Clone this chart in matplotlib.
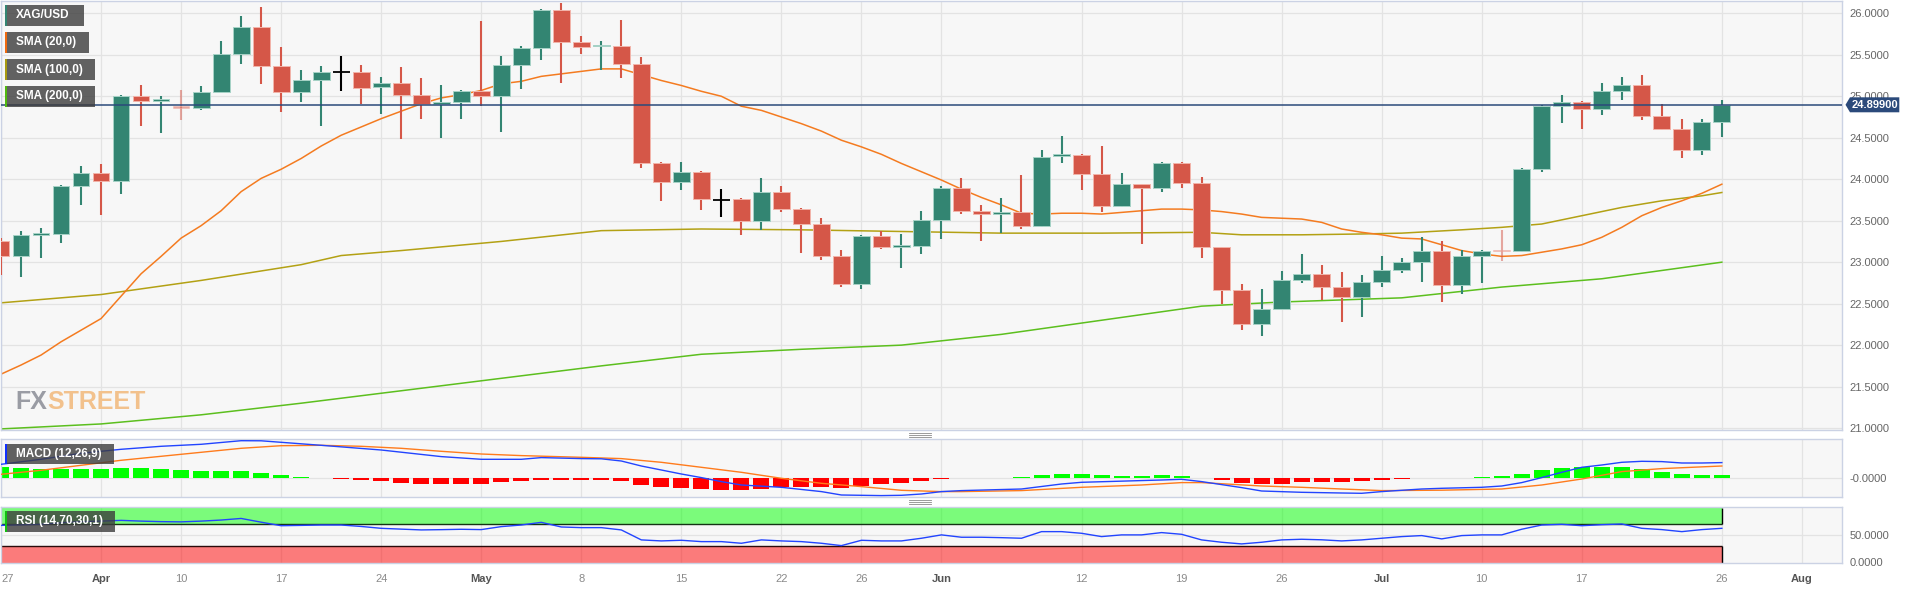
import matplotlib
matplotlib.use("Agg")
import matplotlib.pyplot as plt
from matplotlib.patches import Rectangle, Polygon
from matplotlib.lines import Line2D

plt.rcParams['font.family'] = ['Liberation Sans', 'DejaVu Sans']

# one candle per trading day: index 0 = Mar 27, index 86 = Jul 26
opens = [23.25, 23.08, 23.33, 23.34, 23.92, 24.08, 23.98, 25.00, 24.94, 24.87,
         24.86, 25.05, 25.51, 25.83, 25.37, 25.05, 25.20, 25.29, 25.29, 25.11,
         25.16, 25.02, 24.91, 24.93, 25.06, 25.00, 25.38, 25.58, 26.04, 25.66,
         25.60, 25.61, 25.39, 24.19, 23.97, 24.09, 23.75, 23.76, 23.50, 23.85,
         23.64, 23.46, 23.07, 22.74, 23.31, 23.18, 23.20, 23.51, 23.89, 23.62,
         23.58, 23.60, 23.44, 24.28, 24.29, 24.06, 23.68, 23.94, 23.90, 24.20,
         23.95, 23.18, 22.66, 22.26, 22.44, 22.79, 22.86, 22.70, 22.58, 22.76,
         22.90, 23.00, 23.13, 22.72, 23.08, 23.14, 23.14, 24.12, 24.88, 24.93,
         24.85, 25.06, 25.14, 24.76, 24.61, 24.35, 24.69]
highs = [23.29, 23.37, 23.41, 23.93, 24.16, 24.18, 25.02, 25.14, 25.00, 25.08,
         25.12, 25.67, 25.97, 26.08, 25.59, 25.32, 25.37, 25.49, 25.38, 25.23,
         25.35, 25.22, 25.14, 25.08, 25.91, 25.49, 25.61, 26.05, 26.12, 25.73,
         25.67, 25.92, 25.47, 24.21, 24.21, 24.10, 23.88, 23.77, 24.01, 23.92,
         23.65, 23.53, 23.15, 23.33, 23.37, 23.34, 23.62, 23.92, 24.01, 23.69,
         23.77, 24.05, 24.35, 24.52, 24.30, 24.40, 24.07, 23.94, 24.21, 24.21,
         24.03, 23.18, 22.74, 22.68, 22.89, 23.10, 22.96, 22.88, 22.84, 23.07,
         23.05, 23.30, 23.25, 23.15, 23.15, 23.39, 24.14, 24.89, 25.02, 24.94,
         25.16, 25.23, 25.26, 24.91, 24.73, 24.73, 24.95]
lows = [22.84, 22.82, 23.05, 23.23, 23.69, 23.57, 23.82, 24.64, 24.56, 24.71,
        24.84, 25.05, 25.39, 25.15, 24.81, 24.93, 24.64, 25.06, 24.91, 24.79,
        24.49, 24.73, 24.50, 24.73, 24.88, 24.57, 25.09, 25.44, 25.16, 25.51,
        25.32, 25.22, 24.14, 23.74, 23.87, 23.63, 23.55, 23.33, 23.39, 23.60,
        23.11, 23.03, 22.70, 22.68, 23.16, 22.93, 23.10, 23.28, 23.58, 23.25,
        23.35, 23.40, 23.43, 24.20, 23.87, 23.60, 23.66, 23.22, 23.84, 23.89,
        23.05, 22.49, 22.18, 22.11, 22.43, 22.75, 22.55, 22.28, 22.34, 22.70,
        22.87, 22.76, 22.52, 22.62, 22.75, 23.02, 23.12, 24.09, 24.68, 24.60,
        24.77, 24.95, 24.71, 24.59, 24.26, 24.29, 24.51]
closes = [23.08, 23.33, 23.34, 23.92, 24.08, 23.98, 25.00, 24.94, 24.97, 24.86,
          25.05, 25.51, 25.83, 25.37, 25.05, 25.20, 25.29, 25.29, 25.10, 25.16,
          25.02, 24.91, 24.93, 25.06, 25.00, 25.38, 25.58, 26.04, 25.66, 25.59,
          25.61, 25.39, 24.19, 23.97, 24.09, 23.76, 23.75, 23.50, 23.85, 23.64,
          23.46, 23.07, 22.74, 23.32, 23.18, 23.19, 23.51, 23.89, 23.62, 23.58,
          23.60, 23.44, 24.27, 24.29, 24.06, 23.68, 23.94, 23.90, 24.20, 23.95,
          23.18, 22.67, 22.26, 22.44, 22.79, 22.86, 22.70, 22.58, 22.76, 22.90,
          23.00, 23.13, 22.72, 23.08, 23.14, 23.13, 24.12, 24.88, 24.93, 24.85,
          25.06, 25.14, 24.76, 24.61, 24.35, 24.69, 24.899]
last_price = 24.899

sma20_idx = list(range(0, 87))
sma20 = [21.65, 21.76, 21.88, 22.04, 22.18, 22.32, 22.59, 22.86, 23.07, 23.29,
         23.44, 23.62, 23.85, 24.01, 24.12, 24.25, 24.40, 24.53, 24.63, 24.73,
         24.82, 24.91, 24.98, 25.02, 25.07, 25.15, 25.18, 25.24, 25.27, 25.30,
         25.33, 25.33, 25.26, 25.19, 25.13, 25.06, 25.00, 24.88, 24.83, 24.75,
         24.67, 24.58, 24.47, 24.39, 24.30, 24.19, 24.09, 23.99, 23.88, 23.78,
         23.69, 23.59, 23.58, 23.59, 23.59, 23.58, 23.60, 23.62, 23.64, 23.64,
         23.63, 23.61, 23.58, 23.54, 23.53, 23.52, 23.48, 23.40, 23.36, 23.33,
         23.29, 23.28, 23.21, 23.14, 23.10, 23.07, 23.08, 23.12, 23.16, 23.21,
         23.30, 23.42, 23.56, 23.66, 23.74, 23.83, 23.94]
sma100_idx = [0, 5, 10, 15, 17, 20, 25, 30, 35, 40, 45, 50, 55, 60, 62, 64,
              65, 68, 70, 73, 75, 77, 79, 81, 83, 85, 86]
sma100 = [22.51, 22.61, 22.78, 22.97, 23.08, 23.14, 23.25, 23.38, 23.40, 23.39,
          23.37, 23.35, 23.35, 23.36, 23.33, 23.33, 23.33, 23.34, 23.35, 23.39,
          23.42, 23.46, 23.56, 23.66, 23.74, 23.80, 23.84]
sma200_idx = [0, 5, 10, 15, 20, 25, 30, 35, 40, 45, 50, 55, 60, 64, 70, 75, 80, 86]
sma200 = [20.99, 21.05, 21.16, 21.30, 21.45, 21.60, 21.75, 21.89, 21.95, 22.00,
          22.13, 22.30, 22.47, 22.52, 22.57, 22.70, 22.80, 23.00]

macd_idx = [0, 2, 4, 6, 8, 10, 12, 13, 14, 16, 19, 22, 24, 26, 27, 29, 30, 31,
            32, 34, 35, 36, 37, 39, 41, 42, 43, 44, 45, 46, 47, 48, 51, 53, 54,
            58, 59, 60, 62, 63, 65, 67, 68, 69, 71, 72, 74, 75, 76, 77, 78, 79,
            80, 81, 82, 83, 84, 85, 86]
macd_line = [0.140, 0.190, 0.250, 0.290, 0.320, 0.340, 0.376, 0.375, 0.360,
             0.330, 0.283, 0.217, 0.190, 0.190, 0.207, 0.197, 0.195, 0.173,
             0.123, 0.043, 0.007, -0.033, -0.067, -0.090, -0.133, -0.167,
             -0.170, -0.173, -0.170, -0.157, -0.133, -0.123, -0.107, -0.057,
             -0.040, -0.017, -0.010, -0.033, -0.093, -0.127, -0.140, -0.147,
             -0.150, -0.133, -0.107, -0.100, -0.090, -0.077, -0.043, 0.007,
             0.060, 0.110, 0.133, 0.160, 0.170, 0.167, 0.153, 0.153, 0.157]
signal_idx = [0, 2, 4, 6, 8, 10, 12, 14, 16, 18, 20, 22, 24, 26, 29, 31, 33,
              35, 37, 39, 41, 43, 45, 47, 48, 51, 54, 57, 59, 60, 63, 65, 67,
              69, 72, 75, 77, 79, 81, 83, 86]
signal_line = [0.040, 0.080, 0.130, 0.180, 0.220, 0.260, 0.300, 0.326, 0.330,
               0.320, 0.300, 0.270, 0.243, 0.227, 0.210, 0.197, 0.160, 0.110,
               0.060, 0.000, -0.050, -0.083, -0.120, -0.133, -0.133, -0.123,
               -0.090, -0.067, -0.043, -0.043, -0.077, -0.090, -0.107, -0.123,
               -0.119, -0.107, -0.067, -0.007, 0.067, 0.097, 0.123]
macd_hist = [0.110, 0.100, 0.097, 0.097, 0.097, 0.093, 0.103, 0.103, 0.093, 0.083,
             0.073, 0.073, 0.073, 0.053, 0.030, 0.013, 0.003, -0.003, -0.020, -0.030,
             -0.043, -0.053, -0.057, -0.057, -0.057, -0.037, -0.023, -0.013, -0.013, -0.013,
             -0.013, -0.027, -0.067, -0.090, -0.100, -0.110, -0.117, -0.117, -0.107, -0.090,
             -0.090, -0.090, -0.097, -0.080, -0.053, -0.047, -0.030, -0.010, 0.003, 0.007,
             0.007, 0.010, 0.030, 0.040, 0.040, 0.030, 0.027, 0.027, 0.030, 0.023,
             0.003, -0.020, -0.050, -0.057, -0.053, -0.037, -0.037, -0.033, -0.027, -0.013,
             -0.002, 0.007, 0.005, 0.007, 0.017, 0.020, 0.047, 0.083, 0.103, 0.110,
             0.113, 0.110, 0.090, 0.067, 0.043, 0.033, 0.030]

rsi = [68.0, 69.0, 70.0, 73.0, 75.0, 76.0, 77.4, 76.0, 75.0, 74.6,
       76.0, 78.0, 81.0, 74.0, 67.4, 68.0, 68.7, 68.7, 66.0, 62.5,
       61.0, 59.5, 60.0, 60.7, 60.1, 65.7, 68.7, 73.7, 65.0, 63.8,
       63.8, 59.5, 40.8, 38.9, 40.1, 37.6, 37.6, 34.5, 40.8, 38.9,
       37.6, 34.5, 30.1, 40.1, 38.9, 38.9, 43.9, 50.2, 45.8, 45.8,
       45.0, 43.9, 56.3, 56.3, 53.2, 47.0, 50.2, 50.2, 54.5, 51.3,
       40.8, 36.4, 33.3, 36.4, 40.8, 42.0, 41.0, 38.9, 40.8, 43.9,
       47.0, 48.9, 42.7, 48.9, 50.2, 50.2, 60.8, 68.7, 70.0, 67.4,
       69.3, 70.6, 62.5, 60.1, 56.3, 60.1, 62.5]

date_ticks = [0, 5, 9, 14, 19, 24, 29, 34, 39, 43, 47, 54, 59, 64, 69, 74, 79, 86, 90]
date_labels = ['27', 'Apr', '10', '17', '24', 'May', '8', '15', '22', '26',
               'Jun', '12', '19', '26', 'Jul', '10', '17', '26', 'Aug']
months = ['Apr', 'May', 'Jun', 'Jul', 'Aug']
price_ticks = [21.0, 21.5, 22.0, 22.5, 23.0, 23.5, 24.0, 24.5, 25.0, 25.5, 26.0]

GREEN = '#338572'
RED = '#d55748'
BG = '#f7f7f7'
GRID = '#e3e3e3'
BORDER = '#cbd2e4'
TICK = '#666666'

W, H = 1918, 589
fig = plt.figure(figsize=(W / 100, H / 100), dpi=100)


def fx(x):
    return x / W


def fy(y):
    return 1 - y / H


def add_panel(top, bottom):
    a = fig.add_axes([fx(1), fy(bottom), fx(1841.7 - 1), (bottom - top) / H])
    a.set_facecolor(BG)
    a.set_xlim(0.045, 91.99)
    for s in a.spines.values():
        s.set_color(BORDER)
        s.set_linewidth(1)
    a.yaxis.tick_right()
    a.tick_params(axis='both', length=0, labelsize=8, labelcolor=TICK, pad=5.5)
    a.set_xticks(date_ticks)
    a.grid(True, color=GRID, lw=0.9)
    a.set_axisbelow(True)
    return a


ax = add_panel(0.7, 430)
ax_macd = add_panel(439.3, 497.3)
ax_rsi = add_panel(506.7, 562.7)

# --- price panel ---
ax.set_ylim(20.977, 26.152)
ax.set_yticks(price_ticks)
ax.set_yticklabels(['%.4f' % v for v in price_ticks])
ax.set_xticklabels([])

ax.plot(sma200_idx, sma200, color='#5cbf1e', lw=1.1, zorder=2)
ax.plot(sma100_idx, sma100, color='#b3a114', lw=1.1, zorder=2)
ax.plot(sma20_idx, sma20, color='#f47b20', lw=1.1, zorder=2)

for i in range(len(opens)):
    o, h, l, c = opens[i], highs[i], lows[i], closes[i]
    alpha = 1.0
    if c > o:
        col, edge = GREEN, '#a6d2c6'
    elif c < o:
        col, edge = RED, '#f2b4aa'
        if o - c < 0.015:
            alpha = 0.5
    else:
        col, edge = 'black', 'black'
    ax.vlines(i, l, h, color=col, lw=1.5, alpha=alpha, zorder=3)
    if c == o:
        ax.hlines(o, i - 0.42, i + 0.42, color='black', lw=1.3, zorder=4)
    else:
        hb = max(abs(c - o), 0.022)
        ax.add_patch(Rectangle((i - 0.42, min(o, c)), 0.84, hb, facecolor=col,
                               edgecolor=edge, lw=0.7, alpha=alpha, zorder=4))

ax.axhline(last_price, color='#2b4a7b', lw=1.1, zorder=5)

# --- MACD panel ---
ax_macd.set_ylim(-0.19, 0.39)
ax_macd.set_yticks([0])
ax_macd.set_yticklabels(['-0.0000'])
ax_macd.set_xticklabels([])
bar_cols = ['#00ff00' if v >= 0 else '#ff0000' for v in macd_hist]
ax_macd.bar(range(len(macd_hist)), macd_hist, width=0.8, color=bar_cols, zorder=2)
ax_macd.plot(signal_idx, signal_line, color='#ff7b1c', lw=1.0, zorder=3)
ax_macd.plot(macd_idx, macd_line, color='#2244ff', lw=1.0, zorder=3)

# --- RSI panel ---
ax_rsi.set_ylim(-1.9, 103)
ax_rsi.set_yticks([0, 50])
ax_rsi.set_yticklabels(['0.0000', '50.0000'])
ax_rsi.set_xticks(date_ticks)
ax_rsi.set_xticklabels(date_labels)
ax_rsi.tick_params(axis='x', pad=8)
for t in ax_rsi.get_xticklabels():
    if t.get_text() in months:
        t.set_fontweight('bold')
        t.set_color('#555555')
    else:
        t.set_color('#8a8a8a')
ax_rsi.get_xticklabels()[0].set_horizontalalignment('left')
ax_rsi.grid(False, axis='y')
ax_rsi.axhline(50, color=GRID, lw=0.9, zorder=0)
last_k = len(rsi) - 1
ax_rsi.add_patch(Rectangle((0, 70), last_k, 30, facecolor='#00ff00', alpha=0.5,
                           lw=0, zorder=1))
ax_rsi.add_patch(Rectangle((0, -1.9), last_k, 31.9, facecolor='#ff0000', alpha=0.5,
                           lw=0, zorder=1))
ax_rsi.hlines([70], 0, last_k, color='#143314', lw=1.0, zorder=2)
ax_rsi.hlines([30], 0, last_k, color='#2a0a0a', lw=1.0, zorder=2)
ax_rsi.vlines(last_k, 70, 100, color='black', lw=1.0, zorder=2)
ax_rsi.vlines(last_k, -1.9, 30, color='black', lw=1.0, zorder=2)
ax_rsi.plot(range(len(rsi)), rsi, color='#2244ff', lw=1.0, zorder=3)


# --- legend tags ---
def tag(x0, y0, w, h, stripe, label, tx=16):
    fig.add_artist(Rectangle((fx(x0), fy(y0 + h)), w / W, h / H, transform=fig.transFigure,
                             facecolor='#3c3c3c', alpha=0.8, lw=0, zorder=5))
    fig.add_artist(Rectangle((fx(x0), fy(y0 + h)), 2.2 / W, h / H, transform=fig.transFigure,
                             facecolor=stripe, lw=0, zorder=6))
    fig.text(fx(tx), fy(y0 + h / 2), label, color='white', fontsize=8.5, fontweight='bold',
             va='center', ha='left', zorder=7)


tag(5, 5, 79, 20.7, GREEN, 'XAG/USD')
tag(5, 32, 84, 20.7, '#f06a10', 'SMA (20,0)')
tag(5, 59, 90, 21, '#a89a10', 'SMA (100,0)')
tag(5, 86, 90, 20.7, '#50b810', 'SMA (200,0)')
tag(5, 444, 109, 20.3, '#1030ff', 'MACD (12,26,9)')
tag(5, 511, 110, 20.7, '#10c010', 'RSI (14,70,30,1)')

# current price marker
py = 104.8
fig.add_artist(Polygon([(fx(1845.5), fy(py)), (fx(1850), fy(97.3)), (fx(1899.3), fy(97.3)),
                        (fx(1899.3), fy(112.3)), (fx(1850), fy(112.3))],
                       closed=True, transform=fig.transFigure, facecolor='#2b4a7b',
                       lw=0, zorder=8))
fig.text(fx(1874.5), fy(py), '%.5f' % last_price, color='white', fontsize=8,
         fontweight='bold', ha='center', va='center', zorder=9)

# panel resize handles
for yc in (435.0, 502.0):
    for dy in (-1.6, 0, 1.6):
        fig.add_artist(Line2D([fx(909), fx(931)], [fy(yc + dy), fy(yc + dy)],
                              transform=fig.transFigure, color='#8a8a8a', lw=0.6))

# watermark
logo_font = ['Liberation Sans', 'DejaVu Sans']
t1 = fig.text(fx(15), fy(409), 'FX', fontsize=18, fontweight='bold', family=logo_font,
              color='#9a9ca4', va='baseline', ha='left', zorder=4)
renderer = fig.canvas.get_renderer()
bb = t1.get_window_extent(renderer)
fig.text(bb.x1 / W, fy(409), 'STREET', fontsize=18, fontweight='bold', family=logo_font,
         color='#f2c18c', va='baseline', ha='left', zorder=4)

fig.savefig('out.png', dpi=100, facecolor='white')
